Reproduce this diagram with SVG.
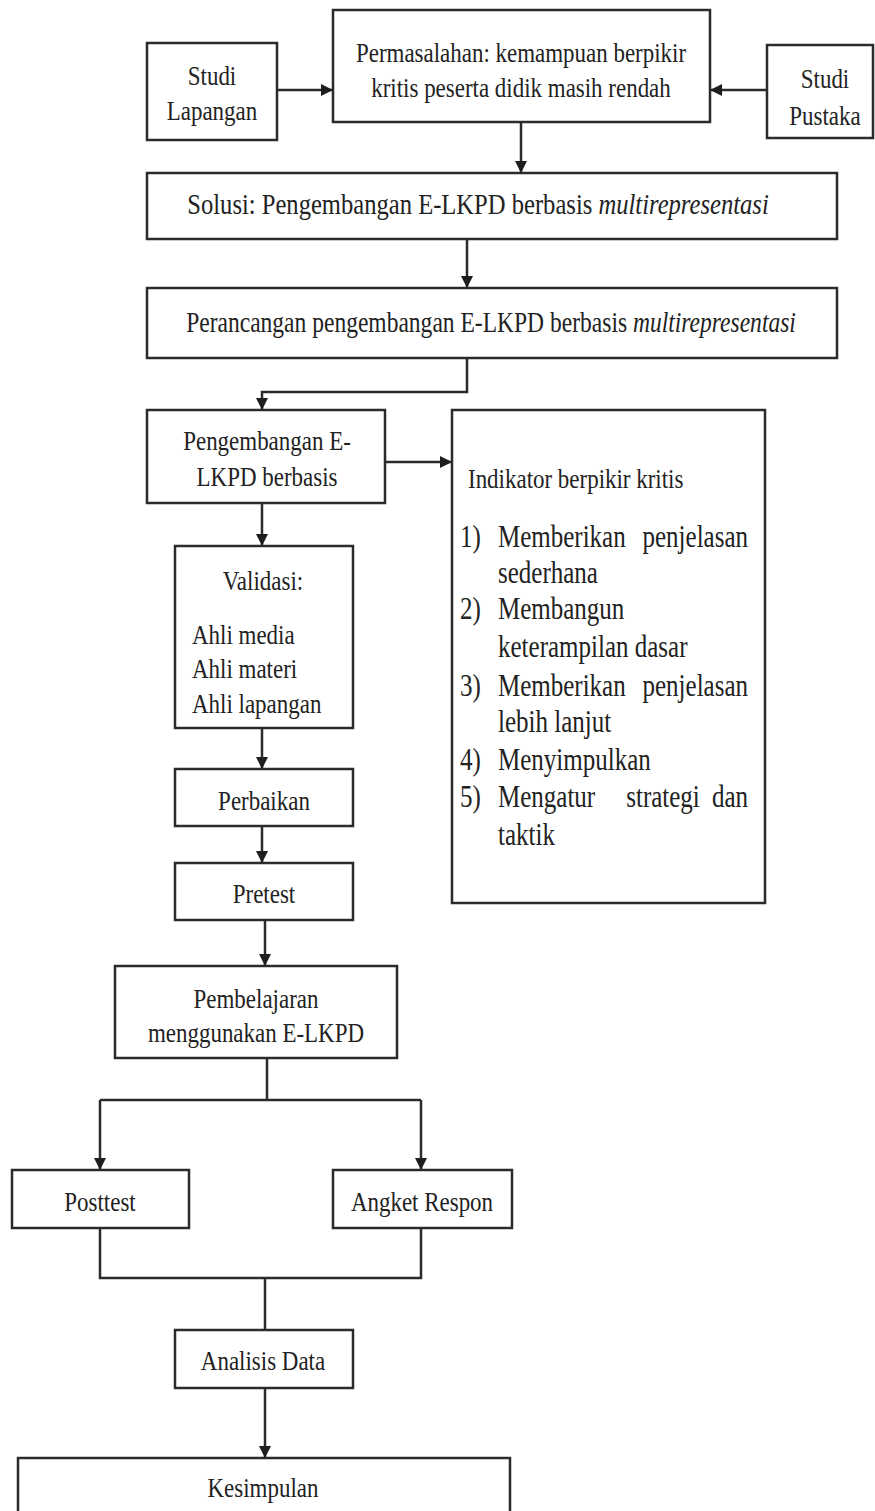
<svg xmlns="http://www.w3.org/2000/svg" width="875" height="1511" viewBox="0 0 875 1511">
<style>
.box{fill:#fff;stroke:#2b2b2b;stroke-width:2.5}
.t{font-family:'Liberation Serif','DejaVu Serif',serif;font-size:28px;fill:#222;text-anchor:middle}
.s{text-anchor:start}
.e{text-anchor:end}
.l{font-family:'Liberation Serif','DejaVu Serif',serif;font-size:30.5px;fill:#222}
.i{font-style:italic}
.c{fill:none;stroke:#2b2b2b;stroke-width:2.5}
</style>
<defs>
<marker id="ah" markerUnits="userSpaceOnUse" markerWidth="12" markerHeight="12" refX="12" refY="6" orient="auto">
<path d="M0,0 L12,6 L0,12 z" fill="#1e1e1e"/>
</marker>
</defs>
<rect width="875" height="1511" fill="#fff"/>
<g id="connectors">
<line class="c" x1="277" y1="90" x2="333" y2="90" marker-end="url(#ah)"/>
<line class="c" x1="767" y1="90" x2="710" y2="90" marker-end="url(#ah)"/>
<line class="c" x1="521" y1="122" x2="521" y2="173" marker-end="url(#ah)"/>
<line class="c" x1="467" y1="239" x2="467" y2="288" marker-end="url(#ah)"/>
<path class="c" d="M467,358 V392 H262 V410" marker-end="url(#ah)"/>
<line class="c" x1="385" y1="462" x2="452" y2="462" marker-end="url(#ah)"/>
<line class="c" x1="262" y1="503" x2="262" y2="546" marker-end="url(#ah)"/>
<line class="c" x1="262" y1="728" x2="262" y2="769" marker-end="url(#ah)"/>
<line class="c" x1="262" y1="826" x2="262" y2="863" marker-end="url(#ah)"/>
<line class="c" x1="265" y1="920" x2="265" y2="966" marker-end="url(#ah)"/>
<path class="c" d="M267,1058 V1100"/>
<path class="c" d="M100,1100 H421"/>
<line class="c" x1="100" y1="1100" x2="100" y2="1170" marker-end="url(#ah)"/>
<line class="c" x1="421" y1="1100" x2="421" y2="1170" marker-end="url(#ah)"/>
<path class="c" d="M100,1228 V1278 H421 V1228"/>
<path class="c" d="M265,1278 V1330"/>
<line class="c" x1="265" y1="1388" x2="265" y2="1458" marker-end="url(#ah)"/>
</g>
<g id="studi-lapangan">
<rect class="box" x="147" y="43" width="130" height="97"/>
<text class="t" transform="matrix(0.82 0 0 1 212 85)">Studi</text>
<text class="t" transform="matrix(0.82 0 0 1 212 120)">Lapangan</text>
</g>
<g id="permasalahan">
<rect class="box" x="333" y="10" width="377" height="112"/>
<text class="t" transform="matrix(0.82 0 0 1 521 62)">Permasalahan: kemampuan berpikir</text>
<text class="t" transform="matrix(0.82 0 0 1 521 97)">kritis peserta didik masih rendah</text>
</g>
<g id="studi-pustaka">
<rect class="box" x="767" y="45" width="106" height="93"/>
<text class="t" transform="matrix(0.82 0 0 1 825 88)">Studi</text>
<text class="t" transform="matrix(0.82 0 0 1 825 125)">Pustaka</text>
</g>
<g id="solusi">
<rect class="box" x="147" y="173" width="690" height="66"/>
<text class="t" style="font-size:30px" transform="matrix(0.82 0 0 1 478 214)">Solusi: Pengembangan E-LKPD berbasis <tspan class="i">multirepresentasi</tspan></text>
</g>
<g id="perancangan">
<rect class="box" x="147" y="288" width="690" height="70"/>
<text class="t" style="font-size:28.7px" transform="matrix(0.82 0 0 1 491 332)">Perancangan pengembangan E-LKPD berbasis <tspan class="i">multirepresentasi</tspan></text>
</g>
<g id="pengembangan">
<rect class="box" x="147" y="410" width="238" height="93"/>
<text class="t" transform="matrix(0.82 0 0 1 267 450)">Pengembangan E-</text>
<text class="t" transform="matrix(0.82 0 0 1 267 486)">LKPD berbasis</text>
</g>
<g id="indikator">
<rect class="box" x="452" y="410" width="313" height="493"/>
<text class="t s" transform="matrix(0.82 0 0 1 468 488)">Indikator berpikir kritis</text>
<text class="l" transform="matrix(0.82 0 0 1 460 547)">1)</text>
<text class="l" transform="matrix(0.82 0 0 1 498 547)">Memberikan</text>
<text class="l e" transform="matrix(0.82 0 0 1 748 547)">penjelasan</text>
<text class="l" transform="matrix(0.82 0 0 1 498 583)">sederhana</text>
<text class="l" transform="matrix(0.82 0 0 1 460 619)">2)</text>
<text class="l" transform="matrix(0.82 0 0 1 498 619)">Membangun</text>
<text class="l" transform="matrix(0.82 0 0 1 498 657)">keterampilan dasar</text>
<text class="l" transform="matrix(0.82 0 0 1 460 696)">3)</text>
<text class="l" transform="matrix(0.82 0 0 1 498 696)">Memberikan</text>
<text class="l e" transform="matrix(0.82 0 0 1 748 696)">penjelasan</text>
<text class="l" transform="matrix(0.82 0 0 1 498 732)">lebih lanjut</text>
<text class="l" transform="matrix(0.82 0 0 1 460 770)">4)</text>
<text class="l" transform="matrix(0.82 0 0 1 498 770)">Menyimpulkan</text>
<text class="l" transform="matrix(0.82 0 0 1 460 807)">5)</text>
<text class="l" transform="matrix(0.82 0 0 1 498 807)">Mengatur</text>
<text class="l" style="text-anchor:middle" transform="matrix(0.82 0 0 1 663 807)">strategi</text>
<text class="l e" transform="matrix(0.82 0 0 1 748 807)">dan</text>
<text class="l" transform="matrix(0.82 0 0 1 498 845)">taktik</text>
</g>
<g id="validasi">
<rect class="box" x="175" y="546" width="178" height="182"/>
<text class="t" transform="matrix(0.82 0 0 1 263 590)">Validasi:</text>
<text class="t s" transform="matrix(0.82 0 0 1 192 644)">Ahli media</text>
<text class="t s" transform="matrix(0.82 0 0 1 192 678)">Ahli materi</text>
<text class="t s" transform="matrix(0.82 0 0 1 192 713)">Ahli lapangan</text>
</g>
<g id="perbaikan">
<rect class="box" x="175" y="769" width="178" height="57"/>
<text class="t" transform="matrix(0.82 0 0 1 264 810)">Perbaikan</text>
</g>
<g id="pretest">
<rect class="box" x="175" y="863" width="178" height="57"/>
<text class="t" transform="matrix(0.82 0 0 1 264 903)">Pretest</text>
</g>
<g id="pembelajaran">
<rect class="box" x="115" y="966" width="282" height="92"/>
<text class="t" transform="matrix(0.82 0 0 1 256 1008)">Pembelajaran</text>
<text class="t" transform="matrix(0.82 0 0 1 256 1042)">menggunakan E-LKPD</text>
</g>
<g id="posttest">
<rect class="box" x="12" y="1170" width="177" height="58"/>
<text class="t" transform="matrix(0.82 0 0 1 100 1211)">Posttest</text>
</g>
<g id="angket">
<rect class="box" x="333" y="1170" width="179" height="58"/>
<text class="t" transform="matrix(0.82 0 0 1 422 1211)">Angket Respon</text>
</g>
<g id="analisis">
<rect class="box" x="175" y="1330" width="178" height="58"/>
<text class="t" transform="matrix(0.82 0 0 1 263 1370)">Analisis Data</text>
</g>
<g id="kesimpulan">
<rect class="box" x="18" y="1458" width="492" height="60"/>
<text class="t" transform="matrix(0.82 0 0 1 263 1497)">Kesimpulan</text>
</g>
</svg>
